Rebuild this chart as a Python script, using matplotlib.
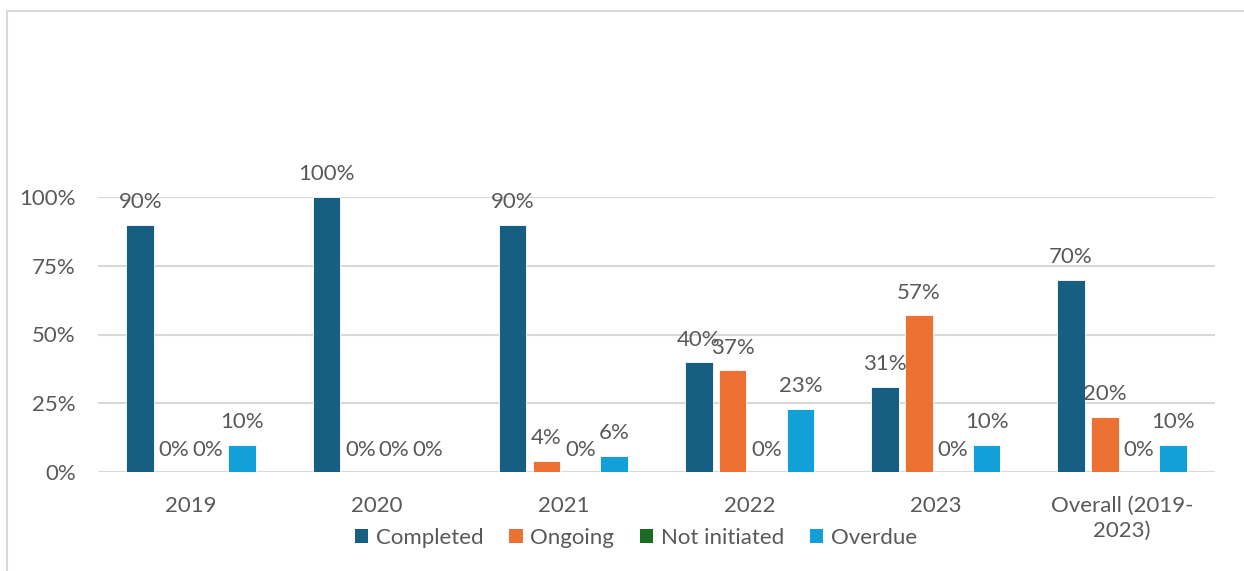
import matplotlib
matplotlib.use("Agg")
import matplotlib.pyplot as plt
from matplotlib.patches import Patch, Rectangle
import numpy as np

categories = ["2019", "2020", "2021", "2022", "2023", "Overall (2019-\n2023)"]
series_names = ["Completed", "Ongoing", "Not initiated", "Overdue"]
completed = [90, 100, 90, 40, 31, 70]
ongoing = [0, 0, 4, 37, 57, 20]
not_initiated = [0, 0, 0, 0, 0, 0]
overdue = [10, 0, 6, 23, 10, 10]
yticks = [0, 25, 50, 75, 100]
colors = ["#175F82", "#EB7232", "#1B6B25", "#13A0D8"]

plt.rcParams['font.family'] = ['Lato', 'DejaVu Sans']
text_color = "#595959"
fs = 16

fig = plt.figure(figsize=(12.44, 5.71), dpi=100)
fig.patches.append(Rectangle((7 / 1244, -0.1), 1.2, 1 - 11 / 571 + 0.1, transform=fig.transFigure,
                             fill=False, edgecolor="#D9D9D9", linewidth=1.5))
ax = fig.add_axes([98 / 1244, 1 - 472 / 571, (1215 - 98) / 1244, (472 - 197) / 571])

data = [completed, ongoing, not_initiated, overdue]
x = np.arange(len(categories))
pitch = 0.182
width = 0.148
for i, (name, vals, c) in enumerate(zip(series_names, data, colors)):
    pos = x + (i - 1.5) * pitch
    ax.bar(pos, vals, width, color=c, edgecolor="white", linewidth=0.6, label=name, zorder=3)
    for p, v in zip(pos, vals):
        ax.annotate(f"{v}%", (p, v), xytext=(0, 9), textcoords="offset points",
                    ha="center", va="bottom", fontsize=fs, color=text_color,
                    annotation_clip=False, zorder=4)

ax.set_xlim(-0.5, len(categories) - 0.5)
ax.set_ylim(0, 100)
ax.set_yticks(yticks)
ax.set_yticklabels([f"{t}%" for t in yticks])
ax.set_xticks(x)
ax.set_xticklabels(categories, linespacing=1.35)
ax.tick_params(axis="y", length=0, pad=16, labelsize=fs, labelcolor=text_color)
ax.tick_params(axis="x", length=0, pad=17, labelsize=fs, labelcolor=text_color)
ax.grid(axis="y", color="#D9D9D9", linewidth=1.5, zorder=0)
for s in ax.spines.values():
    s.set_visible(False)
ax.set_facecolor("none")

handles = [Patch(facecolor=c, edgecolor="none") for c in colors]
fig.legend(handles, series_names, loc="center", bbox_to_anchor=(636 / 1244, 1 - 538 / 571),
           ncol=4, frameon=False, fontsize=fs, labelcolor=text_color,
           handlelength=0.6, handleheight=0.6, handletextpad=0.35, columnspacing=1.15)

fig.savefig("out.png", dpi=100)
